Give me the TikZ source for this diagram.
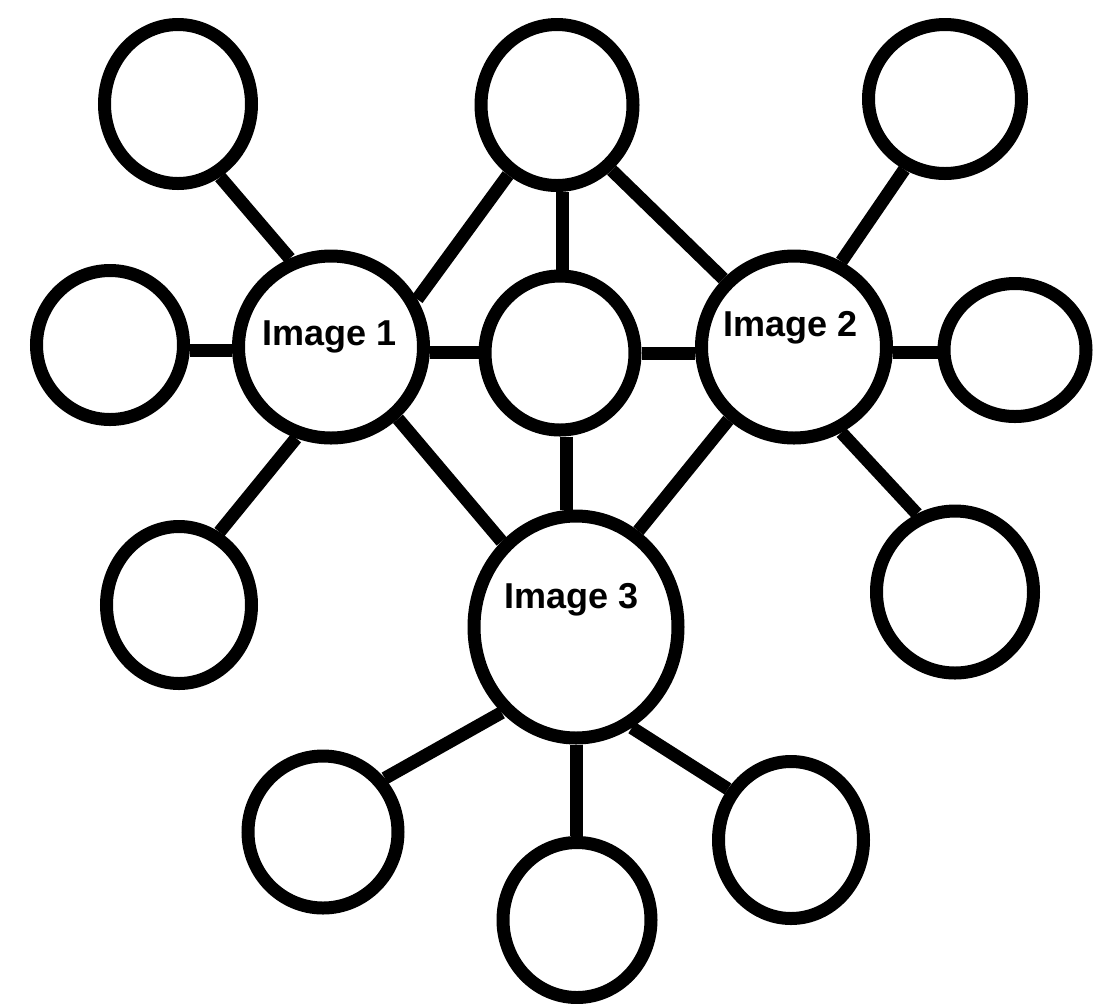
\documentclass[tikz,border=0pt]{standalone}
\usepackage{fontspec}
\setmainfont{Liberation Sans}
\usetikzlibrary{shapes.geometric}
\begin{document}
\begin{tikzpicture}[x=0.5pt,y=-0.5pt,
  bub/.style={ellipse,draw=black,line width=6.5pt,fill=white,inner sep=0pt},
  lnk/.style={line width=6.5pt,draw=black},
  lbl/.style={font=\bfseries\fontsize{18pt}{21pt}\selectfont,inner sep=0pt}]
\useasboundingbox[fill=white] (0,0) rectangle (1115,1003);
% nodes: minimum size = outer size - line width (13px)
\node[bub,minimum width=73.5pt,minimum height=79.5pt] (TL) at (178,104) {};
\node[bub,minimum width=76pt,minimum height=80.5pt] (TM) at (557,105) {};
\node[bub,minimum width=76.5pt,minimum height=74.5pt] (TR) at (945,99) {};
\node[bub,minimum width=73.5pt,minimum height=74.5pt] (L) at (110,345) {};
\node[bub,minimum width=92.5pt,minimum height=91pt] (I1) at (331,347) {};
\node[bub,minimum width=75pt,minimum height=77pt] (C) at (560,353) {};
\node[bub,minimum width=92.5pt,minimum height=91pt] (I2) at (794,347) {};
\node[bub,minimum width=71pt,minimum height=66.5pt] (R) at (1015,350) {};
\node[bub,minimum width=72.5pt,minimum height=78.5pt] (BL) at (179,605) {};
\node[bub,minimum width=102pt,minimum height=111pt] (I3) at (576,627) {};
\node[bub,minimum width=78.5pt,minimum height=81pt] (BR) at (955,592) {};
\node[bub,minimum width=75pt,minimum height=76pt] (BBL) at (323,832) {};
\node[bub,minimum width=74pt,minimum height=77.5pt] (B) at (577,920) {};
\node[bub,minimum width=72.5pt,minimum height=78.5pt] (BBR) at (791,840) {};
% reference lines for straight connectors
\coordinate (h1) at (0,350);
\coordinate (h2) at (0,352);
\coordinate (h3) at (0,353);
\coordinate (v1) at (562,0);
\coordinate (v2) at (566,0);
\coordinate (v3) at (576,0);
% connectors
\draw[lnk] (TL.-60) -- (I1.115);
\draw[lnk] (L.east |- h1) -- (I1.west |- h1);
\draw[lnk] (BL.61) -- (I1.249);
\draw[lnk] (I1.29) -- (TM.235);
\draw[lnk] (I1.east |- h2) -- (C.west |- h2);
\draw[lnk] (I1.-47) -- (I3.131);
\draw[lnk] (v1 |- TM.south) -- (v1 |- C.north);
\draw[lnk] (TM.-50) -- (I2.136);
\draw[lnk] (C.east |- h3) -- (I2.west |- h3);
\draw[lnk] (v2 |- C.south) -- (v2 |- I3.north);
\draw[lnk] (I2.61) -- (TR.240);
\draw[lnk] (I2.east |- h2) -- (R.west |- h2);
\draw[lnk] (I2.-61) -- (BR.116);
\draw[lnk] (I2.228) -- (I3.57);
\draw[lnk] (I3.229) -- (BBL.41);
\draw[lnk] (v3 |- I3.south) -- (v3 |- B.north);
\draw[lnk] (I3.-61) -- (BBR.141);
% labels
\node[lbl] (T1) at (330,337) {Image 1};
\node[lbl] (T2) at (791,328) {Image 2};
\node[lbl] (T3) at (572,600) {Image 3};
\end{tikzpicture}
\end{document}
